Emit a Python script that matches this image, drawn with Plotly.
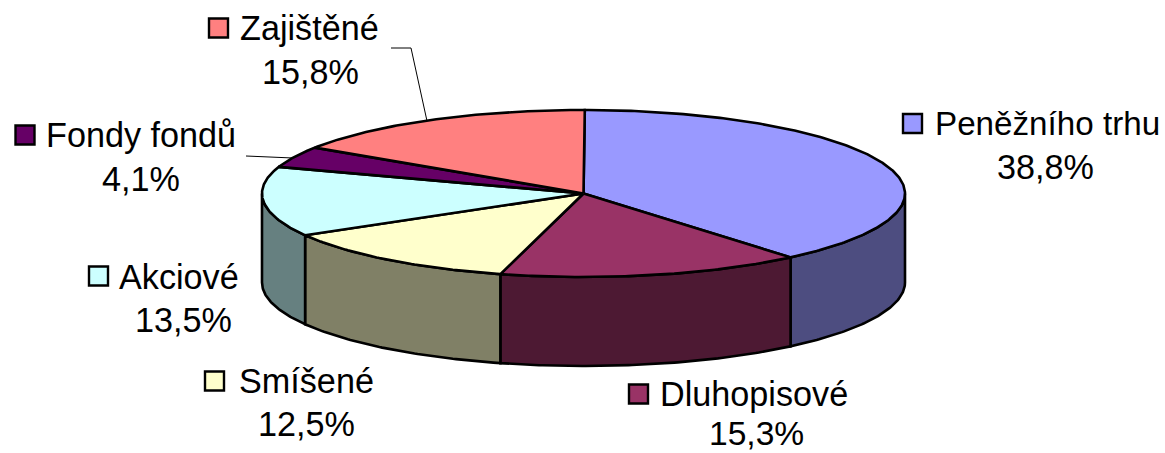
import math
import plotly.graph_objects as go

categories = ["Peněžního trhu", "Dluhopisové", "Smíšené", "Akciové", "Fondy fondů", "Zajištěné"]
values = [38.8, 15.3, 12.5, 13.5, 4.1, 15.8]
top_colors = ["#9999FF", "#993366", "#FFFFCC", "#CCFFFF", "#660066", "#FF8080"]
side_colors = ["#4D4D80", "#4D1933", "#808066", "#668080", "#330033", "#804040"]

# layout constants, in page pixels
W, H = 1165, 453
CX, CY, RX, RY, DEPTH = 583.5, 193.5, 321.5, 83.5, 89
START = 0.004
name_sizes = [33.2, 34.2, 34.2, 34.2, 34.2, 34.2]
pct_sizes = [34.2, 33.6, 34.2, 34.2, 34.2, 34.2]
key_pos = [(912.5, 123.5), (638.5, 394), (214.5, 381), (98.5, 276), (25, 135), (218.5, 28)]
name_pos = [(933, 123), (658, 394), (237, 381), (117, 277), (44, 135), (238, 28)]
pct_pos = [(1045, 167), (756, 433.5), (306, 424), (183, 320), (141, 179), (310, 72)]
leader_x = [[391, 411, 427], [246, 293]]
leader_y = [[48, 48, 121], [156, 158]]


def arc(a0, a1, dy=0.0):
    n = max(2, int(abs(a1 - a0) * 90))
    xs, ys = [], []
    for i in range(n + 1):
        a = a0 + (a1 - a0) * i / n
        xs.append(CX + RX * math.sin(a))
        ys.append(CY - RY * math.cos(a) + dy)
    return xs, ys


total = sum(values)
edges = [START]
for v in values:
    edges.append(edges[-1] + v / total * 2 * math.pi)

fig = go.Figure()
LINE = dict(color="black", width=2.6)

# side walls: only the part of each slice on the front half
for i, name in enumerate(categories):
    a0 = max(edges[i], math.pi / 2)
    a1 = min(edges[i + 1], 3 * math.pi / 2)
    if a1 <= a0:
        continue
    x1, y1 = arc(a0, a1)
    x2, y2 = arc(a1, a0, DEPTH)
    fig.add_trace(go.Scatter(x=x1 + x2 + x1[:1], y=y1 + y2 + y1[:1], mode="lines", fill="toself",
                             fillcolor=side_colors[i], line=LINE, name=name, hoverinfo="name"))

# top faces
for i, name in enumerate(categories):
    x1, y1 = arc(edges[i], edges[i + 1])
    fig.add_trace(go.Scatter(x=[CX] + x1 + [CX], y=[CY] + y1 + [CY], mode="lines", fill="toself",
                             fillcolor=top_colors[i], line=LINE, name=name, hoverinfo="name"))

# leader lines
for lx, ly in zip(leader_x, leader_y):
    fig.add_trace(go.Scatter(x=lx, y=ly, mode="lines", line=dict(color="black", width=1), hoverinfo="skip"))

# legend keys
fig.add_trace(go.Scatter(x=[p[0] for p in key_pos], y=[p[1] for p in key_pos], mode="markers",
                         marker=dict(symbol="square", size=19, color=top_colors,
                                     line=dict(color="black", width=2.4)), hoverinfo="skip"))

FAMILY = "Liberation Sans, Arial, sans-serif"
for i, name in enumerate(categories):
    fig.add_annotation(x=name_pos[i][0], y=name_pos[i][1], text=name, showarrow=False,
                       xanchor="left", yanchor="middle", xref="x", yref="y",
                       font=dict(family=FAMILY, size=name_sizes[i], color="black"))
    fig.add_annotation(x=pct_pos[i][0], y=pct_pos[i][1], text=f"{values[i]:.1f}%".replace(".", ","),
                       showarrow=False, xanchor="center", yanchor="middle", xref="x", yref="y",
                       font=dict(family=FAMILY, size=pct_sizes[i], color="black"))

fig.update_layout(width=W, height=H, margin=dict(l=0, r=0, t=0, b=0), showlegend=False,
                  paper_bgcolor="white", plot_bgcolor="white",
                  xaxis=dict(range=[0, W], visible=False, fixedrange=True),
                  yaxis=dict(range=[H, 0], visible=False, fixedrange=True))
fig.write_html("out.html", config={"displayModeBar": False},
               post_script="document.body.style.margin='0';document.body.style.overflow='hidden';")
